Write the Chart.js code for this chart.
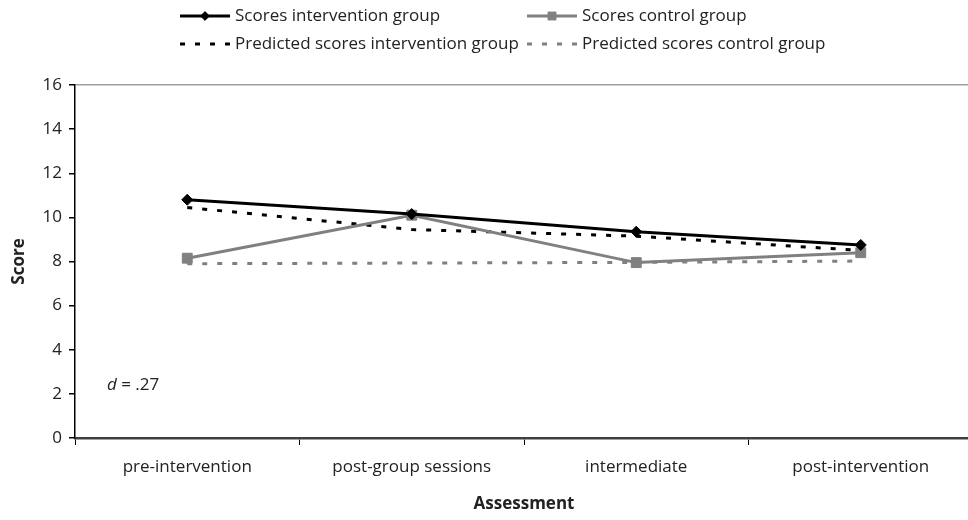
<!DOCTYPE html>
<html>
<head>
<meta charset="utf-8">
<script src="https://cdn.jsdelivr.net/npm/chart.js@4.4.1/dist/chart.umd.min.js"></script>
<style>
  html, body { margin: 0; padding: 0; background: #fff; overflow: hidden; }
  #wrap { width: 968px; height: 520px; overflow: hidden; }
</style>
</head>
<body>
<div id="wrap"><canvas id="chart" width="990" height="520"></canvas></div>
<script>
const ASSESSMENTS = ["pre-intervention", "post-group sessions", "intermediate", "post-intervention"];
const SCORES_INTERVENTION = [10.8, 10.15, 9.35, 8.75];
const SCORES_CONTROL = [8.15, 10.1, 7.95, 8.4];
const PRED_INTERVENTION = [10.45, 9.45, 9.15, 8.5];
const PRED_CONTROL = [7.9, 7.93, 7.96, 8.02];
const Y_MIN = 0, Y_MAX = 16, Y_STEP = 2;
const EFFECT_SIZE = ".27";

const BLACK = "#000000";
const GREY = "#808080";
const FONT = "'Open Sans', sans-serif";

Chart.defaults.font.family = FONT;
Chart.defaults.font.size = 17;
Chart.defaults.color = "#222";

// two-column legend above the plot, built from the datasets
const legendPlugin = {
  id: "gridLegend",
  afterDraw(chart) {
    const ctx = chart.ctx;
    const cols = [180, 527];
    const rows = [16, 44];
    chart.data.datasets.forEach((ds, i) => {
      const x = cols[i % 2], y = rows[Math.floor(i / 2)];
      ctx.save();
      ctx.strokeStyle = ds.borderColor;
      ctx.lineWidth = ds.borderWidth;
      ctx.setLineDash(ds.borderDash || []);
      ctx.beginPath();
      ctx.moveTo(x, y);
      ctx.lineTo(x + 50, y);
      ctx.stroke();
      ctx.setLineDash([]);
      if (ds.pointRadius) {
        ctx.fillStyle = ds.pointBackgroundColor;
        ctx.strokeStyle = ds.pointBorderColor;
        ctx.lineWidth = 1;
        Chart.helpers.drawPoint(ctx, { pointStyle: ds.pointStyle, radius: ds.pointRadius * 0.8, borderWidth: 1 }, x + 25, y);
      }
      ctx.fillStyle = "#222";
      ctx.font = "17px " + FONT;
      ctx.textBaseline = "middle";
      ctx.fillText(ds.label, x + 55, y);
      ctx.restore();
    });
  }
};

// effect size note in the lower left of the plot
const effectPlugin = {
  id: "effectNote",
  afterDraw(chart) {
    const ctx = chart.ctx;
    const x = chart.chartArea.left + 32;
    const y = chart.scales.y.getPixelForValue(2.4);
    ctx.save();
    ctx.fillStyle = "#222";
    ctx.textBaseline = "middle";
    ctx.font = "italic 17px " + FONT;
    ctx.fillText("d", x, y);
    const w = ctx.measureText("d").width;
    ctx.font = "17px " + FONT;
    ctx.fillText(" = " + EFFECT_SIZE, x + w, y);
    ctx.restore();
  }
};

new Chart(document.getElementById("chart"), {
  type: "line",
  data: {
    labels: ASSESSMENTS,
    datasets: [
      {
        label: "Scores intervention group",
        data: SCORES_INTERVENTION,
        borderColor: BLACK,
        borderWidth: 3,
        pointStyle: "rectRot",
        pointRadius: 5.5,
        pointBackgroundColor: BLACK,
        pointBorderColor: BLACK,
        pointBorderWidth: 1,
        tension: 0
      },
      {
        label: "Scores control group",
        data: SCORES_CONTROL,
        borderColor: GREY,
        borderWidth: 3,
        pointStyle: "rect",
        pointRadius: 7,
        pointBackgroundColor: GREY,
        pointBorderColor: GREY,
        pointBorderWidth: 1,
        tension: 0
      },
      {
        label: "Predicted scores intervention group",
        data: PRED_INTERVENTION,
        borderColor: BLACK,
        borderWidth: 3,
        borderDash: [5, 10],
        pointRadius: 0,
        tension: 0
      },
      {
        label: "Predicted scores control group",
        data: PRED_CONTROL,
        borderColor: GREY,
        borderWidth: 3,
        borderDash: [5, 10],
        pointRadius: 0,
        tension: 0
      }
    ]
  },
  options: {
    responsive: false,
    animation: false,
    layout: { padding: { top: 85, right: 17, left: 0, bottom: 0 } },
    plugins: {
      legend: { display: false },
      tooltip: { enabled: false }
    },
    scales: {
      x: {
        offset: true,
        grid: { offset: true, drawOnChartArea: false, tickLength: 7, tickColor: BLACK, lineWidth: 1 },
        border: { color: "#404040", width: 2.5 },
        ticks: { padding: 12 },
        title: { display: true, text: "Assessment", font: { size: 17, weight: "bold" }, padding: { top: 0, bottom: 6 } },
        afterFit: s => { s.height = 82; }
      },
      y: {
        min: Y_MIN,
        max: Y_MAX,
        ticks: { stepSize: Y_STEP, padding: 7 },
        grid: {
          color: c => (c.tick && c.tick.value === Y_MAX ? "#a0a0a0" : "rgba(0,0,0,0)"),
          tickColor: BLACK,
          tickLength: 6,
          lineWidth: 1.5
        },
        border: { color: BLACK, width: 1.5 },
        title: { display: true, text: "Score", font: { size: 17, weight: "bold" }, padding: { top: 9, bottom: 0 } },
        afterFit: s => { s.width = 75; }
      }
    }
  },
  plugins: [legendPlugin, effectPlugin]
});
</script>
</body>
</html>
